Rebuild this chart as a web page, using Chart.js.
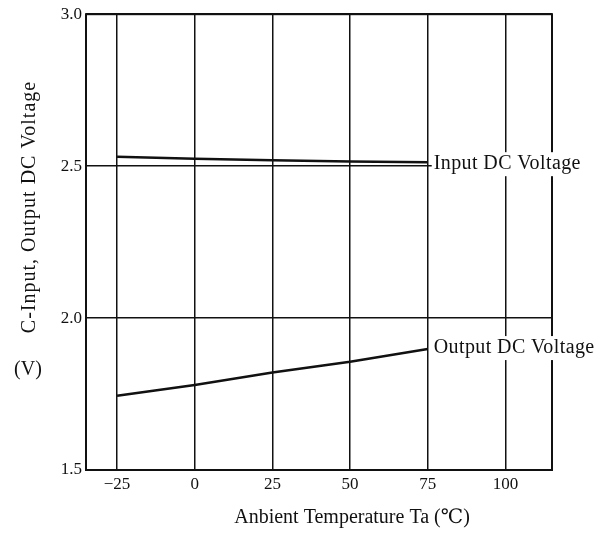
<!DOCTYPE html>
<html>
<head>
<meta charset="utf-8">
<script src="https://cdn.jsdelivr.net/npm/chart.js@4"></script>
<style>
  html, body { margin: 0; padding: 0; background: #fff; }
  #wrap { width: 610px; height: 538px; }
</style>
</head>
<body>
<div id="wrap"><canvas id="voltChart" width="610" height="538"></canvas></div>
<script>
// values
const temps = [-25, 0, 25, 50, 75];
const inputVolts = [2.531, 2.524, 2.519, 2.515, 2.513];
const outputVolts = [1.744, 1.780, 1.821, 1.856, 1.898];
const xTicks = [-25, 0, 25, 50, 75, 100];
const yTicks = [1.5, 2.0, 2.5, 3.0];
const seriesNames = ["Input DC Voltage", "Output DC Voltage"];

const ink = "#111";
const serif = "'Liberation Serif', 'DejaVu Serif', serif";

function toPoints(ys) {
  return temps.map((t, i) => ({ x: t, y: ys[i] }));
}

// frame, line end labels and axis titles
const annotate = {
  id: "annotate",
  beforeDatasetsDraw(chart) {
    const a = chart.chartArea;
    const ctx = chart.ctx;
    ctx.save();
    ctx.strokeStyle = ink;
    ctx.lineWidth = 2;
    ctx.strokeRect(a.left, a.top, a.right - a.left, a.bottom - a.top);
    ctx.restore();
  },
  afterDraw(chart) {
    const ctx = chart.ctx;
    const xs = chart.scales.x;
    const ys = chart.scales.y;
    ctx.save();
    ctx.font = "20px " + serif;
    ctx.textBaseline = "middle";
    ctx.textAlign = "left";
    ctx.letterSpacing = "0.4px";
    const offsets = [2, -1];
    chart.data.datasets.forEach((ds, i) => {
      const last = ds.data[ds.data.length - 1];
      const px = xs.getPixelForValue(last.x) + 6;
      const py = ys.getPixelForValue(last.y) + offsets[i];
      const w = ctx.measureText(ds.label).width;
      ctx.fillStyle = "#fff";
      ctx.fillRect(px - 2, py - 12, w + 4, 24);
      ctx.fillStyle = ink;
      ctx.fillText(ds.label, px, py);
    });

    ctx.textAlign = "center";
    ctx.letterSpacing = "0px";
    ctx.fillText("Anbient Temperature Ta (℃)", 352, 518);
    ctx.fillText("(V)", 28, 370);
    ctx.letterSpacing = "1px";
    ctx.translate(30, 207);
    ctx.rotate(-Math.PI / 2);
    ctx.fillText("C-Input, Output DC Voltage", 0, 0);
    ctx.restore();
  }
};

new Chart(document.getElementById("voltChart").getContext("2d"), {
  type: "line",
  data: {
    datasets: [
      {
        label: seriesNames[0],
        data: toPoints(inputVolts),
        borderColor: ink,
        borderWidth: 2.5,
        pointRadius: 0,
        fill: false,
      },
      {
        label: seriesNames[1],
        data: toPoints(outputVolts),
        borderColor: ink,
        borderWidth: 2.5,
        pointRadius: 0,
        fill: false,
      },
    ],
  },
  options: {
    responsive: false,
    animation: false,
    layout: { padding: { top: 13, right: 58, left: 0, bottom: 0 } },
    plugins: { legend: { display: false }, tooltip: { enabled: false } },
    scales: {
      x: {
        type: "linear",
        min: -35,
        max: 115,
        afterBuildTicks: (s) => { s.ticks = xTicks.map((v) => ({ value: v })); },
        afterFit: (s) => { s.height = 68; },
        ticks: {
          color: ink,
          font: { family: serif, size: 17 },
          padding: 4,
          maxRotation: 0,
          callback: (v) => (v < 0 ? "\u2212" + Math.abs(v) : String(v)),
        },
        grid: { color: ink, lineWidth: 1.5, drawTicks: false },
        border: { display: false },
      },
      y: {
        min: 1.5,
        max: 3.0,
        afterBuildTicks: (s) => { s.ticks = yTicks.map((v) => ({ value: v })); },
        afterFit: (s) => { s.width = 86; },
        ticks: {
          color: ink,
          font: { family: serif, size: 17 },
          padding: 4,
          callback: (v) => Number(v).toFixed(1),
        },
        grid: { color: ink, lineWidth: 1.5, drawTicks: false },
        border: { display: false },
      },
    },
  },
  plugins: [annotate],
});
</script>
</body>
</html>
